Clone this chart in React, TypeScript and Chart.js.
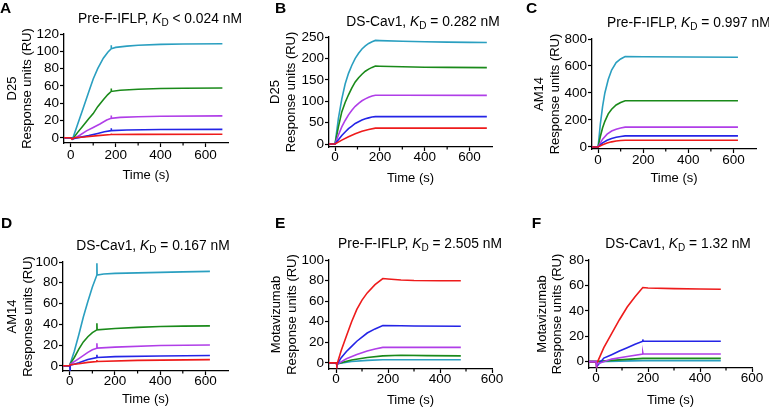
import React, { useEffect, useRef } from "react";
import { Chart, registerables } from "chart.js";

Chart.register(...registerables);

// ---------- data (time s, response RU) ----------
// Panel A: Pre-F-IFLP + D25
const A_red: [number, number][] = [[-30, 0], [0, 0], [5, -1.5], [15, 0], [60, 1], [120, 2.5], [180, 3.8], [180, 5], [181, 3.8], [300, 4], [675, 4.2]];
const A_blue: [number, number][] = [[-30, 0], [0, 0], [10, -1], [40, 0.5], [80, 2.5], [120, 5], [150, 7], [180, 8.3], [180, 11], [181, 8.3], [250, 9], [400, 9.6], [675, 9.8]];
const A_purple: [number, number][] = [[-30, 0], [0, 0], [10, -1.5], [40, 3], [70, 8], [100, 12], [130, 16], [160, 20.5], [180, 22.6], [180, 25.7], [181, 22.6], [220, 23.6], [300, 24.4], [400, 25], [675, 25.3]];
const A_green: [number, number][] = [[-30, 0], [0, 0], [10, -1], [30, 6], [55, 14], [80, 22], [100, 28], [120, 36], [145, 44], [165, 50], [180, 53.6], [180, 57], [181, 53.6], [220, 55], [300, 56.2], [400, 57], [500, 57.3], [675, 57.5]];
const A_cyan: [number, number][] = [[-30, 0], [0, 0], [8, -1.5], [30, 15], [55, 34], [80, 53], [100, 68], [120, 80], [145, 92], [165, 99], [180, 103], [180, 107], [181, 103], [200, 104.5], [250, 106], [300, 107], [400, 108], [500, 108.5], [675, 108.7]];

// Panel B: DS-Cav1 + D25
const B_red: [number, number][] = [[-30, 0], [0, 0], [30, 9], [60, 17], [90, 24], [120, 30], [150, 34], [180, 37], [300, 37], [677, 37]];
const B_blue: [number, number][] = [[-30, 0], [0, 0], [15, 10], [30, 20], [45, 28], [60, 36], [75, 42], [90, 48], [105, 52], [120, 56], [135, 59], [150, 61], [165, 63], [180, 64], [300, 64], [677, 64]];
const B_purple: [number, number][] = [[-30, 0], [0, 0], [15, 21], [30, 40], [45, 55], [60, 68], [75, 79], [90, 88], [105, 95], [120, 101], [135, 105.5], [150, 109], [165, 112], [180, 114], [300, 113.8], [677, 113.5]];
const B_green: [number, number][] = [[-30, 0], [0, 0], [15, 40], [30, 75], [45, 97], [60, 115], [75, 131], [90, 145], [105, 155], [120, 163], [135, 170], [150, 175], [165, 179], [180, 182], [200, 181.8], [300, 180.5], [400, 179.5], [500, 179], [677, 178.5]];
const B_cyan: [number, number][] = [[-30, 0], [0, 0], [15, 60], [30, 105], [45, 140], [60, 165], [75, 184], [90, 200], [105, 212], [120, 222], [135, 229], [150, 235], [165, 239], [180, 242], [200, 241.5], [300, 240], [400, 239], [500, 238], [600, 237.5], [677, 237]];

// Panel C: Pre-F-IFLP + AM14
const C_red: [number, number][] = [[-27, 0], [0, 0], [20, 16], [40, 29], [60, 38], [80, 44], [100, 48], [120, 50], [620, 50]];
const C_blue: [number, number][] = [[-27, 0], [0, 0], [20, 30], [40, 50], [60, 63], [80, 72], [100, 78], [120, 82], [620, 82]];
const C_purple: [number, number][] = [[-27, 0], [0, 0], [20, 58], [40, 95], [60, 118], [80, 132], [100, 141], [120, 147], [620, 147]];
const C_green: [number, number][] = [[-27, 0], [0, 0], [10, 78], [20, 142], [30, 190], [45, 245], [60, 280], [80, 311], [100, 330], [120, 343], [620, 343]];
const C_cyan: [number, number][] = [[-27, 0], [0, 0], [10, 170], [20, 300], [30, 400], [45, 500], [60, 570], [80, 625], [100, 652], [120, 670], [200, 669], [400, 667], [620, 665]];

// Panel D: DS-Cav1 + AM14
const D_red: [number, number][] = [[-30, 0], [0, 0], [2, 1], [40, 2], [80, 3.3], [120, 4.2], [120, 5.5], [121, 4.2], [300, 5.2], [620, 6]];
const D_blue: [number, number][] = [[-30, 0], [0, 0], [1, -4], [2, 0.5], [40, 3], [80, 6], [120, 8], [120, 10.6], [121, 8], [200, 8.8], [400, 9.5], [620, 10]];
const D_purple: [number, number][] = [[-30, 0], [0, 0], [2, 1.5], [40, 7], [80, 13], [100, 15.5], [120, 17], [120, 21.8], [121, 17], [200, 18], [400, 19.5], [620, 20]];
const D_green: [number, number][] = [[-30, 0], [0, 0], [2, 2], [20, 8], [40, 16], [60, 23], [80, 28], [100, 32], [120, 34.6], [120, 41], [121, 34.6], [200, 36], [300, 37], [400, 37.8], [500, 38.2], [620, 38.5]];
const D_cyan: [number, number][] = [[-30, 0], [0, 0], [2, 2], [20, 14], [40, 30], [60, 47], [80, 62], [100, 76], [120, 87.5], [120, 98.7], [121, 87.5], [150, 88.5], [200, 89], [300, 89.5], [400, 90], [500, 90.5], [620, 91]];

// Panel E: Pre-F-IFLP + Motavizumab
const E_red: [number, number][] = [[-27, 0], [0, 0], [3, -2], [20, 12], [40, 26], [60, 40], [80, 52], [100, 61], [120, 68], [150, 76], [180, 82], [200, 81.5], [250, 80.5], [300, 80], [400, 79.8], [480, 79.8]];
const E_blue: [number, number][] = [[-27, 0], [0, 0], [3, -2], [20, 5], [40, 11], [60, 16], [80, 21], [100, 25], [120, 29], [150, 33], [180, 36.2], [250, 36], [300, 35.8], [480, 35.6]];
const E_purple: [number, number][] = [[-27, 0], [0, 0], [3, -1.5], [40, 4], [80, 8], [120, 11.5], [150, 13.5], [180, 15], [480, 15]];
const E_green: [number, number][] = [[-27, 0], [0, 0], [3, -1], [60, 2.8], [120, 5.2], [180, 6.8], [250, 7.3], [350, 7], [480, 6.8]];
const E_cyan: [number, number][] = [[-27, 0], [0, 0], [3, -1], [60, 1.3], [120, 2.4], [180, 3], [480, 3]];

// Panel F: DS-Cav1 + Motavizumab
const F_red: [number, number][] = [[-27, 0], [0, 0], [2, -2], [30, 11], [60, 22], [90, 33], [120, 43], [150, 51], [180, 58.3], [200, 58], [300, 57.5], [400, 57.2], [480, 57]];
const F_blue: [number, number][] = [[-27, 0], [0, 0], [2, -4], [30, 2.8], [60, 5.5], [90, 8.3], [120, 11], [150, 13.7], [180, 16], [180, 17.5], [181, 16], [300, 16], [480, 16]];
const F_purple: [number, number][] = [[-27, 0], [0, 0], [2, -2], [60, 2], [120, 4], [180, 6], [180, 7], [181, 6], [480, 6]];
const F_green: [number, number][] = [[-27, 0], [0, 0], [60, 1], [120, 1.8], [180, 2.6], [480, 2.6]];
const F_cyan: [number, number][] = [[-27, 0], [0, 0], [180, 0.8], [480, 0.8]];

// tick values
const X_TICKS = [0, 200, 400, 600];
const X_MINOR = [100, 300, 500];
const Y_TICKS_A = [0, 20, 40, 60, 80, 100, 120];
const Y_TICKS_B = [0, 50, 100, 150, 200, 250];
const Y_TICKS_C = [0, 200, 400, 600, 800];
const Y_TICKS_D = [0, 20, 40, 60, 80, 100];
const Y_TICKS_E = [0, 20, 40, 60, 80, 100];
const Y_TICKS_F = [0, 20, 40, 60, 80];

// ---------- styles ----------
const FONT = '"Liberation Sans", Arial, Helvetica, sans-serif';
const COL = {
  red: "#ee1b1b",
  blue: "#2424e6",
  purple: "#b03ee8",
  green: "#1a8a1a",
  cyan: "#2a9fc0",
};

type Series = { pts: [number, number][]; color: string };

interface PanelCfg {
  letter: string;
  box: { left: number; top: number; w: number; h: number };
  area: { l: number; r: number; t: number; b: number };
  xr: [number, number];
  yr: [number, number];
  yTicks: number[];
  yTitle: string[];
  yTitlePad: number;
  xTitlePad: number;
  xTickPad: number;
  titlePre: string;
  titlePost: string;
  titleX: number;
  titleY: number;
  titleAlign: "center" | "left";
  letterX: number;
  letterY: number;
  series: Series[];
}

const PANELS: PanelCfg[] = [
  {
    letter: "A",
    box: { left: 0, top: 0, w: 255, h: 205 },
    area: { l: 64, r: 228, t: 34, b: 143 },
    xr: [-30, 700], yr: [-6, 120], yTicks: Y_TICKS_A,
    yTitle: ["D25", "Response units (RU)"], yTitlePad: 4.5, xTitlePad: 22, xTickPad: 2,
    titlePre: "Pre-F-IFLP, ", titlePost: " < 0.024 nM", titleX: 160, titleY: 22.7, titleAlign: "center",
    letterX: 0, letterY: 13,
    series: [
      { pts: A_red, color: COL.red }, { pts: A_blue, color: COL.blue }, { pts: A_purple, color: COL.purple },
      { pts: A_green, color: COL.green }, { pts: A_cyan, color: COL.cyan },
    ],
  },
  {
    letter: "B",
    box: { left: 255, top: 0, w: 255, h: 205 },
    area: { l: 329, r: 492, t: 37, b: 147 },
    xr: [-27, 700], yr: [-7, 250], yTicks: Y_TICKS_B,
    yTitle: ["D25", "Response units (RU)"], yTitlePad: 13, xTitlePad: 19, xTickPad: 0,
    titlePre: "DS-Cav1, ", titlePost: " = 0.282 nM", titleX: 423, titleY: 26, titleAlign: "center",
    letterX: 275, letterY: 12.7,
    series: [
      { pts: B_red, color: COL.red }, { pts: B_blue, color: COL.blue }, { pts: B_purple, color: COL.purple },
      { pts: B_green, color: COL.green }, { pts: B_cyan, color: COL.cyan },
    ],
  },
  {
    letter: "C",
    box: { left: 510, top: 0, w: 259, h: 205 },
    area: { l: 592, r: 756, t: 39, b: 149 },
    xr: [-27, 700], yr: [-15, 800], yTicks: Y_TICKS_C,
    yTitle: ["AM14", "Response units (RU)"], yTitlePad: 22, xTitlePad: 19, xTickPad: 0.5,
    titlePre: "Pre-F-IFLP, ", titlePost: " = 0.997 nM", titleX: 607, titleY: 27, titleAlign: "left",
    letterX: 526, letterY: 12.7,
    series: [
      { pts: C_red, color: COL.red }, { pts: C_blue, color: COL.blue }, { pts: C_purple, color: COL.purple },
      { pts: C_green, color: COL.green }, { pts: C_cyan, color: COL.cyan },
    ],
  },
  {
    letter: "D",
    box: { left: 0, top: 205, w: 255, h: 204 },
    area: { l: 63, r: 228, t: 262, b: 371 },
    xr: [-30, 700], yr: [-5, 100], yTicks: Y_TICKS_D,
    yTitle: ["AM14", "Response units (RU)"], yTitlePad: 4.7, xTitlePad: 2, xTickPad: 0,
    titlePre: "DS-Cav1, ", titlePost: " = 0.167 nM", titleX: 153, titleY: 250, titleAlign: "center",
    letterX: 1, letterY: 227.7,
    series: [
      { pts: D_red, color: COL.red }, { pts: D_blue, color: COL.blue }, { pts: D_purple, color: COL.purple },
      { pts: D_green, color: COL.green }, { pts: D_cyan, color: COL.cyan },
    ],
  },
  {
    letter: "E",
    box: { left: 255, top: 205, w: 255, h: 204 },
    area: { l: 329, r: 492, t: 260, b: 369 },
    xr: [-27, 600], yr: [-6, 100], yTicks: Y_TICKS_E,
    yTitle: ["Motavizumab", "Response units (RU)"], yTitlePad: 14, xTitlePad: 0.5, xTickPad: 0,
    titlePre: "Pre-F-IFLP, ", titlePost: " = 2.505 nM", titleX: 420, titleY: 248.3, titleAlign: "center",
    letterX: 275, letterY: 228.3,
    series: [
      { pts: E_red, color: COL.red }, { pts: E_blue, color: COL.blue }, { pts: E_purple, color: COL.purple },
      { pts: E_green, color: COL.green }, { pts: E_cyan, color: COL.cyan },
    ],
  },
  {
    letter: "F",
    box: { left: 510, top: 205, w: 259, h: 204 },
    area: { l: 589, r: 752, t: 260, b: 368 },
    xr: [-27, 600], yr: [-5, 80], yTicks: Y_TICKS_F,
    yTitle: ["Motavizumab", "Response units (RU)"], yTitlePad: 24.5, xTitlePad: 1, xTickPad: 0,
    titlePre: "DS-Cav1, ", titlePost: " = 1.32 nM", titleX: 678, titleY: 248.3, titleAlign: "center",
    letterX: 531.7, letterY: 228,
    series: [
      { pts: F_purple, color: COL.purple }, { pts: F_red, color: COL.red }, { pts: F_blue, color: COL.blue },
      { pts: F_green, color: COL.green }, { pts: F_cyan, color: COL.cyan },
    ],
  },
];

const panelTextPlugin = {
  id: "panelText",
  afterDraw(chart: any, _args: any, opts: any) {
    const ctx = chart.ctx as CanvasRenderingContext2D;
    const area = chart.chartArea;
    const xs = chart.scales.x;
    ctx.save();
    // minor x ticks
    ctx.strokeStyle = "#000";
    ctx.lineWidth = 1.2;
    for (const v of opts.minor as number[]) {
      if (v < xs.min || v > xs.max) continue;
      const px = xs.getPixelForValue(v);
      ctx.beginPath();
      ctx.moveTo(px, area.bottom);
      ctx.lineTo(px, area.bottom + 2.5);
      ctx.stroke();
    }
    ctx.fillStyle = "#000";
    ctx.textBaseline = "alphabetic";
    ctx.textAlign = "left";
    // panel letter
    ctx.font = `bold 15.5px ${FONT}`;
    ctx.fillText(opts.letter, opts.letterX, opts.letterY);
    // title with italic K and subscript D
    const fBase = `13.8px ${FONT}`;
    const fItal = `italic 13.8px ${FONT}`;
    const fSub = `10px ${FONT}`;
    ctx.font = fBase;
    const w1 = ctx.measureText(opts.pre).width;
    const w4 = ctx.measureText(opts.post).width;
    ctx.font = fItal;
    const w2 = ctx.measureText("K").width;
    ctx.font = fSub;
    const w3 = ctx.measureText("D").width;
    const total = w1 + w2 + w3 + w4;
    let x = opts.align === "center" ? opts.x - total / 2 : opts.x;
    const y = opts.y;
    ctx.font = fBase;
    ctx.fillText(opts.pre, x, y);
    x += w1;
    ctx.font = fItal;
    ctx.fillText("K", x, y);
    x += w2;
    ctx.font = fSub;
    ctx.fillText("D", x, y + 3);
    x += w3;
    ctx.font = fBase;
    ctx.fillText(opts.post, x, y);
    ctx.restore();
  },
};

function buildConfig(p: PanelCfg): any {
  const { box, area } = p;
  const yWidth = area.l - box.left;
  const xHeight = box.top + box.h - area.b;
  return {
    type: "line",
    data: {
      datasets: p.series.map((s) => ({
        data: s.pts.map(([x, y]) => ({ x, y })),
        borderColor: s.color,
        backgroundColor: s.color,
        borderWidth: 1.6,
        pointRadius: 0,
        pointHoverRadius: 0,
        tension: 0,
        fill: false,
      })),
    },
    options: {
      responsive: false,
      animation: false,
      events: [],
      layout: {
        padding: {
          left: 0,
          top: area.t - box.top,
          right: box.left + box.w - area.r,
          bottom: 0,
        },
      },
      plugins: {
        legend: { display: false },
        tooltip: { enabled: false },
        title: { display: false },
        panelText: {
          letter: p.letter,
          letterX: p.letterX - box.left,
          letterY: p.letterY - box.top,
          pre: p.titlePre,
          post: p.titlePost,
          x: p.titleX - box.left,
          y: p.titleY - box.top,
          align: p.titleAlign,
          minor: X_MINOR,
        },
      },
      scales: {
        x: {
          type: "linear",
          min: p.xr[0],
          max: p.xr[1],
          afterBuildTicks: (s: any) => {
            s.ticks = X_TICKS.map((v) => ({ value: v }));
          },
          afterFit: (s: any) => {
            s.height = xHeight;
          },
          grid: {
            display: true,
            drawOnChartArea: false,
            drawTicks: true,
            tickLength: 4,
            tickColor: "#000",
            tickWidth: 1.2,
          },
          border: { display: true, color: "#000", width: 1.3 },
          ticks: {
            color: "#000",
            padding: p.xTickPad,
            maxRotation: 0,
            autoSkip: false,
            font: { family: FONT, size: 13.5, lineHeight: 1.0 },
          },
          title: {
            display: true,
            text: "Time (s)",
            color: "#000",
            font: { family: FONT, size: 13, lineHeight: 1.2 },
            padding: { top: 0, bottom: p.xTitlePad },
          },
        },
        y: {
          type: "linear",
          min: p.yr[0],
          max: p.yr[1],
          afterBuildTicks: (s: any) => {
            s.ticks = p.yTicks.map((v) => ({ value: v }));
          },
          afterFit: (s: any) => {
            s.width = yWidth;
          },
          grid: {
            display: true,
            drawOnChartArea: false,
            drawTicks: true,
            tickLength: 4,
            tickColor: "#000",
            tickWidth: 1.2,
          },
          border: { display: true, color: "#000", width: 1.3 },
          ticks: {
            color: "#000",
            padding: 1,
            autoSkip: false,
            font: { family: FONT, size: 13.5, lineHeight: 1.0 },
          },
          title: {
            display: true,
            text: p.yTitle,
            color: "#000",
            font: { family: FONT, size: 13, lineHeight: 1.2 },
            padding: { top: p.yTitlePad, bottom: 0 },
          },
        },
      },
    },
    plugins: [panelTextPlugin],
  };
}

function Panel({ p }: { p: PanelCfg }) {
  const ref = useRef<HTMLCanvasElement | null>(null);
  useEffect(() => {
    if (!ref.current) return;
    const chart = new Chart(ref.current, buildConfig(p));
    return () => chart.destroy();
  }, [p]);
  return (
    <div
      style={{
        position: "absolute",
        left: p.box.left,
        top: p.box.top,
        width: p.box.w,
        height: p.box.h,
      }}
    >
      <canvas ref={ref} width={p.box.w} height={p.box.h} />
    </div>
  );
}

export default function App() {
  return (
    <div
      style={{
        position: "absolute",
        left: 0,
        top: 0,
        width: 769,
        height: 409,
        background: "#fff",
        overflow: "hidden",
      }}
    >
      {PANELS.map((p) => (
        <Panel key={p.letter} p={p} />
      ))}
    </div>
  );
}
